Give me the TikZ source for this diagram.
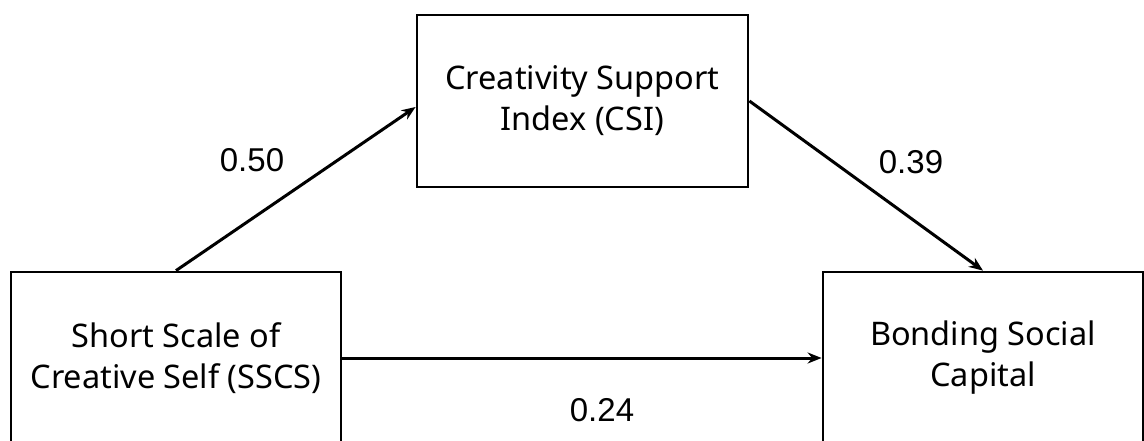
\documentclass[tikz,border=0pt]{standalone}
\usepackage{fontspec}
\setmainfont{Noto Sans}
\newfontfamily\numfont{Liberation Sans}
\usetikzlibrary{arrows.meta}

\begin{document}
\begin{tikzpicture}[x=1pt, y=-1pt,
    varbox/.style = {draw, line width=2.8pt, minimum height=172pt,
                     align=center, font=\fontsize{32.5}{41}\selectfont},
    path/.style   = {line width=3pt, -{Stealth[length=14pt,width=11pt]}},
    coef/.style   = {font=\numfont\fontsize{33}{35}\selectfont}]
  \useasboundingbox (0,0) rectangle (1144,440);
  \node [varbox, minimum width=330pt] (sscs) at (176,358)   {Short Scale of\\Creative Self (SSCS)};
  \node [varbox, minimum width=331pt] (csi)  at (582.5,101) {Creativity Support\\Index (CSI)};
  \node [varbox, minimum width=320pt] (bsc)  at (983,358)   {Bonding Social\\Capital};
  \draw [path] (sscs.north) -- ([yshift=-6pt]csi.west);
  \draw [path] (csi.east) -- (bsc.north);
  \draw [path] (sscs.east) -- (bsc.west);
  \node [coef] (c1) at (252,160) {0.50};
  \node [coef] (c2) at (911,162) {0.39};
  \node [coef] (c3) at (602,410) {0.24};
\end{tikzpicture}
\end{document}
